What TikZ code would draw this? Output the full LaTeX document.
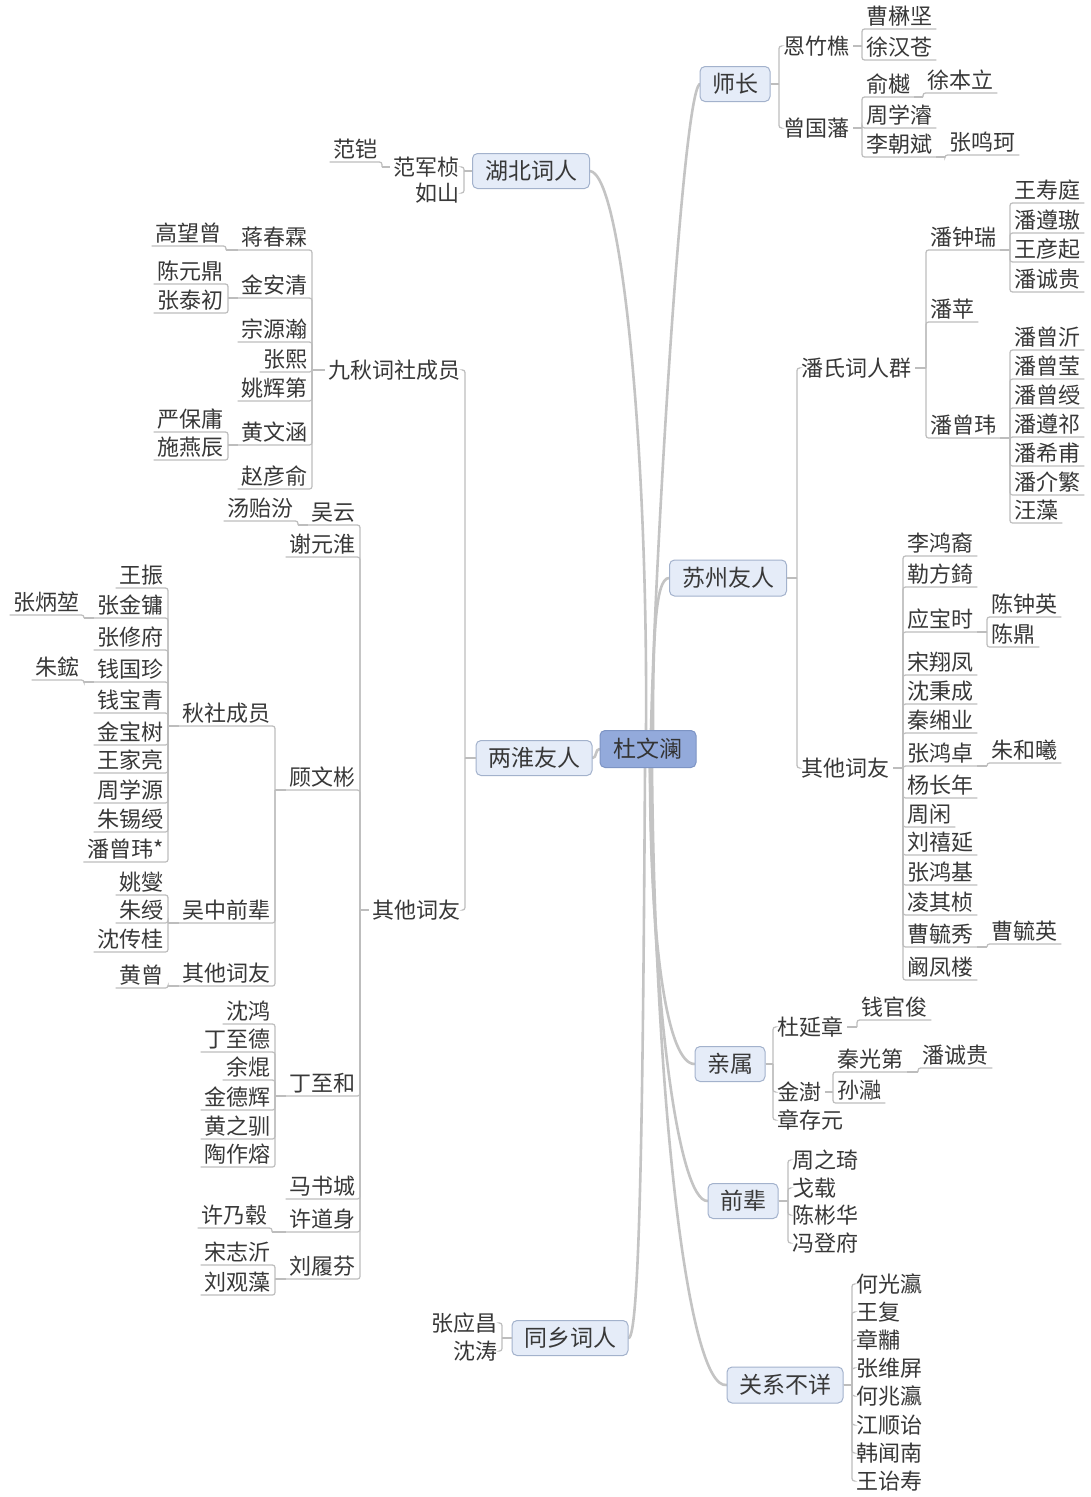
\documentclass[tikz,border=0pt]{standalone}
\usepackage{fontspec}
\newfontfamily\cjk{Noto Sans CJK SC}
\usetikzlibrary{calc,backgrounds}
\definecolor{txt}{HTML}{383838}
\definecolor{ln}{HTML}{BDBDBD}
\definecolor{mln}{HTML}{C4C4C4}
\definecolor{boxf}{HTML}{E5ECF8}
\definecolor{boxb}{HTML}{A3B2CC}
\definecolor{cenf}{HTML}{93AADB}
\definecolor{cenb}{HTML}{7D94C4}
\newcommand\mR[2]{\draw[sub] (#1) -- (#1 -| #2.south west); \draw[sub,rounded corners=2.5pt] (#1 -| #2.south west) -- (#2.south west) -- (#2.south east);}
\newcommand\mL[2]{\draw[sub] (#1) -- (#1 -| #2.south east); \draw[sub,rounded corners=2.5pt] (#1 -| #2.south east) -- (#2.south east) -- (#2.south west);}
\newcommand\mRR[2]{\draw[sub] (#1) -- (#1 -| #2.west); \draw[sub,rounded corners=2.5pt] (#1 -| #2.west) -- (#2.west) -- ++(2,0);}
\newcommand\mLL[2]{\draw[sub] (#1) -- (#1 -| #2.east); \draw[sub,rounded corners=2.5pt] (#1 -| #2.east) -- (#2.east) -- ++(-2,0);}
\begin{document}
\begin{tikzpicture}[x=1pt,y=-1pt,
 nm/.style={font=\cjk\fontsize{22}{24}\selectfont, text=txt, inner xsep=4pt, inner ysep=2pt, text height=18pt, text depth=2pt},
 bx/.style={font=\cjk\fontsize{23}{26}\selectfont, text=txt, draw=boxb, fill=boxf, line width=1pt, rounded corners=5pt, inner sep=0pt, text height=18pt, text depth=2pt, minimum height=35pt},
 cen/.style={bx, fill=cenf, draw=cenb, text=black!80},
 sub/.style={draw=ln, line width=1.2pt},
 mainln/.style={draw=mln, line width=2.6pt, line cap=round},
]
\useasboundingbox (0,0) rectangle (1091,1497);
% ---------- level 0 / 1 ----------
\node[cen, minimum width=96pt, minimum height=37pt] (c) at (648,749) {杜文澜};
\node[bx, minimum width=70pt] (A) at (735,84) {师长};
\node[bx, minimum width=117pt] (B) at (531,171) {湖北词人};
\node[bx, minimum width=117pt, minimum height=36pt] (C) at (728,578) {苏州友人};
\node[bx, minimum width=116pt] (D) at (534,758) {两淮友人};
\node[bx, minimum width=70pt] (E) at (730,1064) {亲属};
\node[bx, minimum width=70pt] (F) at (743,1201) {前辈};
\node[bx, minimum width=116pt] (G) at (570,1338) {同乡词人};
\node[bx, minimum width=116pt, minimum height=36pt] (H) at (785,1385) {关系不详};

\begin{scope}[on background layer]
\fill[white] (0,0) rectangle (1091,1497);
\draw[mainln] ($(c.north)+(3,0)$) .. controls (655,560) and (682,100) .. (A.west);
\draw[mainln] ($(c.north)+(-2,0)$) .. controls (648,450) and (622,175) .. (B.east);
\draw[mainln] ($(c.north)+(5,0)$) .. controls (653,640) and (655,578) .. (C.west);
\draw[mainln] (c.west) .. controls (595,749) and (597,758) .. (D.east);
\draw[mainln] ($(c.south)+(2,0)$) .. controls (650,950) and (668,1064) .. (E.west);
\draw[mainln] ($(c.south)+(2,0)$) .. controls (652,1000) and (678,1201) .. (F.west);
\draw[mainln] ($(c.south)+(-3,0)$) .. controls (643,1100) and (640,1338) .. (G.east);
\draw[mainln] ($(c.south)+(4,0)$) .. controls (655,1100) and (688,1390) .. (H.west);
\end{scope}

% ---------- 师长 ----------
\node[nm,anchor=west] (a1) at (779,46) {恩竹樵};
\node[nm,anchor=west] (a2) at (779,128) {曾国藩};
\mRR{A.east}{a1} \mRR{A.east}{a2}
\node[nm,anchor=south west] (a11) at (862,29) {曹楙坚};
\node[nm,anchor=south west] (a12) at (862,60) {徐汉苍};
\mR{a1.east}{a11} \mR{a1.east}{a12}
\node[nm,anchor=south west] (a21) at (862,97) {俞樾};
\node[nm,anchor=south west] (a22) at (862,128) {周学濬};
\node[nm,anchor=south west] (a23) at (862,157) {李朝斌};
\mR{a2.east}{a21} \mR{a2.east}{a22} \mR{a2.east}{a23}
\node[nm,anchor=south west] (a211) at (923,93) {徐本立};
\mR{a21.south east}{a211}
\node[nm,anchor=south west] (a231) at (945,155) {张鸣珂};
\mR{a23.south east}{a231}

% ---------- 湖北词人 ----------
\node[nm,anchor=east] (b1) at (464,167) {范军桢};
\node[nm,anchor=east] (b2) at (464,193) {如山};
\mLL{B.west}{b1} \mLL{B.west}{b2}
\node[nm,anchor=south east] (b11) at (382,162) {范铠};
\mL{b1.west}{b11}

% ---------- 苏州友人 ----------
\node[nm,anchor=west] (c1) at (797,368) {潘氏词人群};
\node[nm,anchor=west] (c2) at (797,768) {其他词友};
\mRR{C.east}{c1} \mRR{C.east}{c2}
\node[nm,anchor=south west] (c11) at (926,250) {潘钟瑞};
\node[nm,anchor=south west] (c12) at (926,322) {潘苹};
\node[nm,anchor=south west] (c13) at (926,438) {潘曾玮};
\mR{c1.east}{c11} \mR{c1.east}{c12} \mR{c1.east}{c13}
\foreach \n/\y/\t in {c111/203/王寿庭, c112/233/潘遵璈, c113/262/王彦起, c114/292/潘诚贵}{
  \node[nm,anchor=south west] (\n) at (1010,\y) {\t}; \mR{c11.south east}{\n}}
\foreach \n/\y/\t in {c131/350/潘曾沂, c132/379/潘曾莹, c133/408/潘曾绶, c134/437/潘遵祁, c135/466/潘希甫, c136/495/潘介繁, c137/523/汪藻}{
  \node[nm,anchor=south west] (\n) at (1010,\y) {\t}; \mR{c13.south east}{\n}}
\foreach \n/\y/\t in {s1/556/李鸿裔, s2/587/勒方錡, s3/632/应宝时, s4/675/宋翔凤, s5/704/沈秉成, s6/733/秦缃业, s7/766/张鸿卓, s8/798/杨长年, s9/827/周闲, s10/855/刘禧延, s11/885/张鸿基, s12/915/凌其桢, s13/947/曹毓秀, s14/980/阚凤楼}{
  \node[nm,anchor=south west] (\n) at (903,\y) {\t}; \mR{c2.east}{\n}}
\node[nm,anchor=south west] (s31) at (987,617) {陈钟英};
\node[nm,anchor=south west] (s32) at (987,647) {陈鼎};
\mR{s3.south east}{s31} \mR{s3.south east}{s32}
\node[nm,anchor=south west] (s71) at (987,763) {朱和曦};
\mR{s7.south east}{s71}
\node[nm,anchor=south west] (s131) at (987,944) {曹毓英};
\mR{s13.south east}{s131}

% ---------- 两淮友人 ----------
\node[nm,anchor=east] (d1) at (465,370) {九秋词社成员};
\node[nm,anchor=east] (d2) at (465,910) {其他词友};
\mLL{D.west}{d1} \mLL{D.west}{d2}
\foreach \n/\y/\t in {d11/250/蒋春霖, d12/298/金安清, d13/342/宗源瀚, d14/372/张熙, d15/401/姚辉第, d16/445/黄文涵, d17/489/赵彦俞}{
  \node[nm,anchor=south east] (\n) at (312,\y) {\t}; \mL{d1.west}{\n}}
\node[nm,anchor=south east] (d111) at (226,246) {高望曾};
\mL{d11.south west}{d111}
\node[nm,anchor=south east] (d121) at (228,284) {陈元鼎};
\node[nm,anchor=south east] (d122) at (228,313) {张泰初};
\mL{d12.south west}{d121} \mL{d12.south west}{d122}
\node[nm,anchor=south east] (d161) at (228,432) {严保庸};
\node[nm,anchor=south east] (d162) at (228,460) {施燕辰};
\mL{d16.south west}{d161} \mL{d16.south west}{d162}

\foreach \n/\y/\t in {d21/525/吴云, d22/557/谢元淮, d23/790/顾文彬, d24/1096/丁至和, d25/1199/马书城, d26/1232/许道身, d27/1279/刘履芬}{
  \node[nm,anchor=south east] (\n) at (360,\y) {\t}; \mL{d2.west}{\n}}
\node[nm,anchor=south east] (d211) at (298,521) {汤贻汾};
\mL{d21.south west}{d211}
\node[nm,anchor=south east] (d231) at (275,726) {秋社成员};
\node[nm,anchor=south east] (d232) at (275,923) {吴中前辈};
\node[nm,anchor=south east] (d233) at (275,986) {其他词友};
\mL{d23.south west}{d231} \mL{d23.south west}{d232} \mL{d23.south west}{d233}
\foreach \n/\y/\t in {q1/588/王振, q2/618/张金镛, q3/650/张修府, q4/682/钱国珍, q5/713/钱宝青, q6/745/金宝树, q7/773/王家亮, q8/803/周学源, q9/832/朱锡绶, q10/862/潘曾玮*}{
  \node[nm,anchor=south east] (\n) at (168,\y) {\t}; \mL{d231.south west}{\n}}
\node[nm,anchor=south east] (q21) at (84,615) {张炳堃};
\mL{q2.south west}{q21}
\node[nm,anchor=south east] (q41) at (84,680) {朱鋐};
\mL{q4.south west}{q41}
\foreach \n/\y/\t in {w1/895/姚燮, w2/923/朱绶, w3/952/沈传桂}{
  \node[nm,anchor=south east] (\n) at (168,\y) {\t}; \mL{d232.south west}{\n}}
\node[nm,anchor=south east] (o1) at (168,988) {黄曾};
\mL{d233.south west}{o1}
\foreach \n/\y/\t in {g1/1024/沈鸿, g2/1052/丁至德, g3/1080/余焜, g4/1110/金德辉, g5/1139/黄之驯, g6/1167/陶作熔}{
  \node[nm,anchor=south east] (\n) at (275,\y) {\t}; \mL{d24.south west}{\n}}
\node[nm,anchor=south east] (x1) at (272,1228) {许乃毂};
\mL{d26.south west}{x1}
\node[nm,anchor=south east] (l1) at (275,1265) {宋志沂};
\node[nm,anchor=south east] (l2) at (275,1295) {刘观藻};
\mL{d27.south west}{l1} \mL{d27.south west}{l2}

% ---------- 亲属 ----------
\node[nm,anchor=west] (e1) at (773,1027) {杜延章};
\node[nm,anchor=west] (e2) at (773,1092) {金澍};
\node[nm,anchor=west] (e3) at (773,1120) {章存元};
\mRR{E.east}{e1} \mRR{E.east}{e2} \mRR{E.east}{e3}
\node[nm,anchor=south west] (e11) at (857,1020) {钱官俊};
\mR{e1.east}{e11}
\node[nm,anchor=south west] (e21) at (833,1072) {秦光第};
\node[nm,anchor=south west] (e22) at (833,1103) {孙瀜};
\mR{e2.east}{e21} \mR{e2.east}{e22}
\node[nm,anchor=south west] (e211) at (918,1068) {潘诚贵};
\mR{e21.south east}{e211}

% ---------- 前辈 ----------
\foreach \n/\y/\t in {f1/1160/周之琦, f2/1188/戈载, f3/1215/陈彬华, f4/1243/冯登府}{
  \node[nm,anchor=west] (\n) at (788,\y) {\t}; \mRR{F.east}{\n}}

% ---------- 同乡词人 ----------
\node[nm,anchor=east] (h1) at (502,1323) {张应昌};
\node[nm,anchor=east] (h2) at (502,1351) {沈涛};
\mLL{G.west}{h1} \mLL{G.west}{h2}

% ---------- 关系不详 ----------
\foreach \n/\y/\t in {u1/1284/何光瀛, u2/1312/王复, u3/1340/章黼, u4/1368/张维屏, u5/1396/何兆瀛, u6/1425/江顺诒, u7/1453/韩闻南, u8/1481/王诒寿}{
  \node[nm,anchor=west] (\n) at (852,\y) {\t}; \mRR{H.east}{\n}}
\end{tikzpicture}
\end{document}
